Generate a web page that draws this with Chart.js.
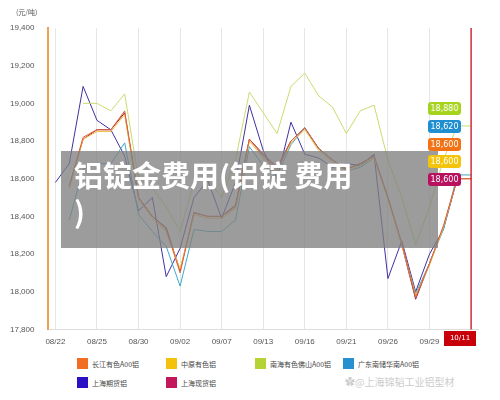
<!DOCTYPE html>
<html><head><meta charset="utf-8">
<script src="https://cdn.jsdelivr.net/npm/chart.js@4"></script>
<style>
body{margin:0;background:#fff;font-family:"Noto Sans CJK SC","Noto Sans",sans-serif;}
#wrap{position:relative;width:500px;height:400px;}
#cw{position:absolute;left:0;top:0;width:500px;height:355px;}
.tag{position:absolute;left:428px;width:33px;height:13px;border-radius:3px;color:#fff;font:8px "DejaVu Sans";text-align:center;line-height:13px;}
.lg{position:absolute;font-size:7px;color:#444;display:flex;align-items:center;}
.lg i{display:inline-block;width:11px;height:11px;margin-right:4px;}
</style></head><body>
<div id="wrap">
<div id="cw"><canvas id="c"></canvas></div>
<div style="position:absolute;left:16px;top:7px;font-size:7px;color:#555">(元/吨)</div>
<div style="position:absolute;left:61px;top:151px;width:377px;height:97px;background:rgba(128,128,128,0.78);"></div>
<div style="position:absolute;left:74px;top:156px;font-size:29px;font-weight:bold;color:#fff;line-height:36px;width:360px;">铝锭金费用(铝锭 费用<br>)</div>
<div id="tags"></div>
<div style="position:absolute;left:444px;top:331px;width:32px;height:15px;background:#c8000a;color:#fff;font:7px 'DejaVu Sans';text-align:center;line-height:15px">10/11</div>
<div id="lgd"></div>
<div style="position:absolute;left:345px;top:374px;font-size:10px;color:#ccc">✿@上海锦韬工业铝型材</div>
</div>
<script>
const labels=["08/22","08/23","08/24","08/25","08/28","08/29","08/30","08/31","09/01","09/02","09/05","09/06","09/07","09/08","09/12","09/13","09/14","09/15","09/16","09/19","09/20","09/21","09/22","09/25","09/26","09/27","09/28","09/29","10/09","10/10","10/11"];
const changjiang=[null,18560,18820,18860,18860,18960,18500,18400,18330,18100,18420,18400,18400,18450,18810,18720,18650,18800,18870,18760,18700,18650,18680,18720,18500,18260,17970,18150,18350,18600,18600];
const zhongyuan=[null,18550,18810,18850,18850,18940,18490,18390,18320,18120,18410,18390,18390,18440,18800,18710,18640,18790,18860,18750,18690,18640,18670,18710,18490,18250,17980,18140,18340,18600,18600];
const nanhai=[null,null,19000,19000,18960,19050,18600,18550,18450,18320,18580,18600,18500,18700,19060,18950,18840,19090,19160,19040,18980,18840,18960,18990,18700,18500,18250,18450,18700,18880,18880];
const guangdong=[null,18380,18650,18680,18680,18790,18410,18320,18240,18030,18330,18320,18320,18380,18770,18670,18620,18780,18870,18760,18700,18640,18660,18710,18500,18250,17990,18150,18330,18620,18620];
const shqh=[18580,18680,19090,18910,18860,18720,18430,18500,18080,18230,18500,18590,18390,18580,18990,18750,18600,18900,18730,18710,18660,18680,18670,18730,18070,18270,18000,18200,18330,18600,null];
const shxh=[null,18560,18810,18860,18860,18950,18500,18400,18340,18110,18420,18400,18400,18460,18810,18730,18660,18800,18870,18760,18700,18650,18680,18720,18500,18250,17960,18150,18340,18600,18600];
const names=["长江有色A00铝","中原有色铝","南海有色佛山A00铝","广东南储华南A00铝","上海期货铝","上海现货铝"];
const colors=["#f26d21","#f4c20d","#b5d334","#2790d0","#2a12c4","#c2185b"];
const lineColors=["#e0603a","#f0c040","#c8dc70","#40a8c8","#4030a0","#901838"];
const tagVals=["18,880","18,620","18,600","18,600","18,600"];
const tagColors=["#a6d31c","#1f8fd2","#f47216","#f4c40a","#b8125e"];
const series=[changjiang,zhongyuan,nanhai,guangdong,shqh,shxh];
const tg=document.getElementById('tags');
tagVals.forEach((v,i)=>{const d=document.createElement('div');d.className='tag';d.style.top=(102+i*17.8)+'px';d.style.background=tagColors[i];d.textContent=v;tg.appendChild(d);});
const lg=document.getElementById('lgd');
const pos=[[77,358],[166,358],[255,358],[343,358],[77,377],[166,377]];
names.forEach((n,i)=>{const d=document.createElement('div');d.className='lg';d.style.left=pos[i][0]+'px';d.style.top=pos[i][1]+'px';d.innerHTML='<i style="background:'+colors[i]+'"></i>'+n;lg.appendChild(d);});
new Chart(document.getElementById('c'),{type:'line',
data:{labels,datasets:series.map((s,i)=>({label:names[i],data:s,borderColor:lineColors[i],borderWidth:1,pointRadius:0,tension:0,fill:false}))},
options:{responsive:true,maintainAspectRatio:false,animation:false,
layout:{padding:{left:4,right:22,top:28,bottom:0}},
plugins:{legend:{display:false},tooltip:{enabled:false}},
scales:{x:{offset:true,grid:{offset:false,color:'#e6e6e6',drawTicks:false,lineWidth:(c)=>c.index%3===0?1:0},border:{color:'#ddd'},
ticks:{autoSkip:false,maxRotation:0,color:'#555',font:{size:8},padding:8,callback:(v,i)=>(i%3===0&&i<30)?labels[i]:''}},
y:{min:17800,max:19400,ticks:{stepSize:200,color:'#555',font:{size:8},padding:6,callback:v=>v.toLocaleString('en-US')},grid:{display:false},border:{color:'#f0a050',width:2}}}},
plugins:[{id:'r',afterDraw(ch){const c=ch.ctx,x=ch.scales.x.getPixelForValue(30);c.save();c.strokeStyle='#c8000a';c.lineWidth=1.2;c.beginPath();c.moveTo(x,ch.chartArea.top);c.lineTo(x,ch.chartArea.bottom);c.stroke();c.restore();}}]
});
</script></body></html>
